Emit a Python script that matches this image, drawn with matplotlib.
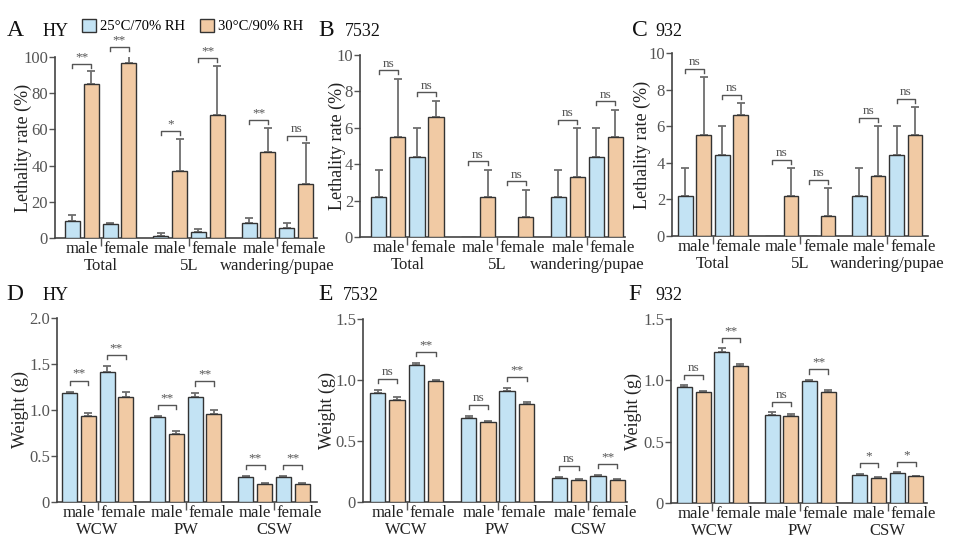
import numpy as np
import matplotlib
matplotlib.use('Agg')
import matplotlib.pyplot as plt

plt.rcParams['font.family'] = ['Liberation Serif', 'DejaVu Serif']

# ---- data ----
lethal_groups = ['Total', '5L', 'wandering/pupae']
weight_groups = ['WCW', 'PW', 'CSW']
sexes = ['male', 'female']
legend_labels = ['25°C/70% RH', '30°C/90% RH']

# A  HY lethality rate (%)   order: group x sex
a_blue = [9.6, 7.6, 1.1, 3.3, 8.3, 5.3]
a_blue_sd = [3.3, 0.5, 1.7, 1.5, 2.6, 2.8]
a_orange = [85.0, 96.7, 37.0, 67.8, 47.7, 29.7]
a_orange_sd = [7.2, 5.0, 17.9, 27.4, 13.3, 22.6]
a_sig = ['**', '**', '*', '**', '**', 'ns']

# B  7532 lethality rate (%)
b_blue = [2.2, 4.4, 0, 0, 2.2, 4.4]
b_blue_sd = [1.5, 1.6, 0, 0, 1.5, 1.6]
b_orange = [5.5, 6.6, 2.2, 1.1, 3.3, 5.5]
b_orange_sd = [3.2, 0.9, 1.5, 1.5, 2.7, 1.5]
b_sig = ['ns', 'ns', 'ns', 'ns', 'ns', 'ns']

# C  932 lethality rate (%)
c_blue = [2.2, 4.4, 0, 0, 2.2, 4.4]
c_blue_sd = [1.5, 1.6, 0, 0, 1.5, 1.6]
c_orange = [5.5, 6.6, 2.2, 1.1, 3.3, 5.5]
c_orange_sd = [3.2, 0.65, 1.5, 1.5, 2.7, 1.55]
c_sig = ['ns', 'ns', 'ns', 'ns', 'ns', 'ns']

# D  HY weight (g)
d_blue = [1.185, 1.41, 0.92, 1.145, 0.275, 0.275]
d_blue_sd = [0.015, 0.07, 0.01, 0.045, 0.01, 0.01]
d_orange = [0.94, 1.145, 0.74, 0.953, 0.20, 0.20]
d_orange_sd = [0.03, 0.05, 0.035, 0.05, 0.01, 0.01]
d_sig = ['**', '**', '**', '**', '**', '**']

# E  7532 weight (g)
e_blue = [0.897, 1.119, 0.688, 0.913, 0.200, 0.211]
e_blue_sd = [0.022, 0.018, 0.018, 0.018, 0.008, 0.008]
e_orange = [0.834, 0.993, 0.658, 0.800, 0.181, 0.181]
e_orange_sd = [0.024, 0.011, 0.008, 0.02, 0.008, 0.008]
e_sig = ['ns', '**', 'ns', '**', 'ns', '**']

# F  932 weight (g)
f_blue = [0.944, 1.233, 0.720, 0.995, 0.232, 0.243]
f_blue_sd = [0.02, 0.027, 0.02, 0.011, 0.008, 0.008]
f_orange = [0.905, 1.118, 0.706, 0.905, 0.207, 0.218]
f_orange_sd = [0.006, 0.016, 0.019, 0.019, 0.006, 0.006]
f_sig = ['ns', '**', 'ns', '**', '*', '*']

# ---- style ----
BLUE = '#c3e3f4'
ORANGE = '#f1caa4'
EDGE = '#333333'
ERR = '#6e6e6e'
GRAY = '#555555'
GAP = 4.7
W = 0.8
W_PX, H_PX = 960, 547

fig = plt.figure(figsize=(9.6, 5.47), dpi=100)
fig.patch.set_facecolor('white')


def px_rect(l, r, t, b):
    return [l / W_PX, 1 - b / H_PX, (r - l) / W_PX, (b - t) / H_PX]


def panel(box, letter, strain, letter_x, strain_x, title_y, label_x, groups,
          blue, blue_sd, orange, orange_sd, sig, ymax, yticks, yticklabels,
          ylabel, ml, mr, frac):
    l, r, t, b = box
    ax = fig.add_axes(px_rect(l, r, t, b))
    idx = np.arange(6)
    xb = (idx // 2) * GAP + (idx % 2) * 2
    xo = xb + 1
    blue = np.array(blue, float)
    orange = np.array(orange, float)
    blue_sd = np.array(blue_sd, float)
    orange_sd = np.array(orange_sd, float)

    hb = ax.bar(xb, blue, W, color=BLUE, edgecolor=EDGE, linewidth=1.0, zorder=3)
    ho = ax.bar(xo, orange, W, color=ORANGE, edgecolor=EDGE, linewidth=1.0, zorder=3)
    for x, m, sd in ((xb, blue, blue_sd), (xo, orange, orange_sd)):
        keep = sd > 0
        ax.errorbar(x[keep], m[keep], yerr=[np.zeros(keep.sum()), sd[keep]],
                    fmt='none', ecolor=ERR, elinewidth=1.3, capsize=3.2,
                    capthick=1.3, zorder=2)

    # significance brackets
    h = 0.022 * ymax
    for i in range(6):
        top = max(blue[i] + blue_sd[i], orange[i] + orange_sd[i])
        y = top + frac * ymax
        x1, x2 = xb[i], xo[i]
        ax.plot([x1, x1, x2, x2], [y - h, y, y, y - h], color=GRAY, lw=1.0,
                clip_on=False, zorder=4)
        ax.text((x1 + x2) / 2, y + 0.004 * ymax, sig[i], ha='center', va='bottom',
                fontsize=9.5, color=GRAY)

    ax.set_xlim(-W / 2 - ml, 2 * GAP + 3 + W / 2 + mr)
    ax.set_ylim(0, ymax)
    ax.set_yticks(yticks)
    ax.set_yticklabels(yticklabels)
    ax.set_xticks(np.arange(3) * GAP + 1.5)
    ax.tick_params(axis='x', length=6, width=1.0, color=GRAY, labelbottom=False)
    ax.tick_params(axis='y', length=4, width=1.0, color=GRAY, labelcolor=GRAY,
                   labelsize=12, pad=1)
    for sp in ('top', 'right'):
        ax.spines[sp].set_visible(False)
    for sp in ('left', 'bottom'):
        ax.spines[sp].set_color('#444444')
        ax.spines[sp].set_linewidth(1.2)

    # category labels under the axis: male | female around the group tick
    for k in range(3):
        xc = k * GAP + 1.5
        ax.annotate(sexes[0], xy=(xc, 0), xycoords=('data', 'axes fraction'),
                    xytext=(-2, -2.5), textcoords='offset points', ha='right', va='top',
                    fontsize=12, color='#222222')
        ax.annotate(sexes[1], xy=(xc, 0), xycoords=('data', 'axes fraction'),
                    xytext=(2, -2.5), textcoords='offset points', ha='left', va='top',
                    fontsize=12, color='#222222')
        ax.annotate(groups[k], xy=(xc, 0), xycoords=('data', 'axes fraction'),
                    xytext=(0, -14.5), textcoords='offset points', ha='center', va='top',
                    fontsize=12, color='#222222')

    ax.set_ylabel(ylabel, fontsize=13, color='#222222', va='center')
    ax.yaxis.set_label_coords((label_x - l) / (r - l), 0.5)
    fig.text(letter_x / W_PX, 1 - title_y / H_PX, letter, fontsize=17, va='center',
             ha='left', color='#111111')
    fig.text(strain_x / W_PX, 1 - (title_y + 2) / H_PX, strain, fontsize=13, va='center',
             ha='left', color='#111111')
    return ax, hb, ho


leth_ticks_a = [0, 20, 40, 60, 80, 100]
leth_ticks_bc = [0, 2, 4, 6, 8, 10]
w_ticks_d = [0, 0.5, 1.0, 1.5, 2.0]
w_ticks_ef = [0, 0.5, 1.0, 1.5]

ax_a, hb, ho = panel((55, 317, 57, 238), 'A', 'HY', 7, 43, 30, 23, lethal_groups,
                     a_blue, a_blue_sd, a_orange, a_orange_sd, a_sig, 100,
                     leth_ticks_a, [str(t) for t in leth_ticks_a],
                     'Lethality rate (%)', 0.53, 0.21, 0.04)
panel((360, 625, 55, 237), 'B', '7532', 318, 345, 30, 337, lethal_groups,
      b_blue, b_blue_sd, b_orange, b_orange_sd, b_sig, 10,
      leth_ticks_bc, [str(t) for t in leth_ticks_bc],
      'Lethality rate (%)', 0.58, 0.1, 0.045)
panel((672, 928, 53, 236), 'C', '932', 632, 655, 30, 642, lethal_groups,
      c_blue, c_blue_sd, c_orange, c_orange_sd, c_sig, 10,
      leth_ticks_bc, [str(t) for t in leth_ticks_bc],
      'Lethality rate (%)', 0.32, 0.3, 0.045)
panel((57, 317, 318, 502), 'D', 'HY', 6, 43, 294, 20, weight_groups,
      d_blue, d_blue_sd, d_orange, d_orange_sd, d_sig, 2.0,
      w_ticks_d, ['0', '0.5', '1.0', '1.5', '2.0'],
      'Weight (g)', 0.27, 0.4, 0.06)
panel((363, 627, 319, 502), 'E', '7532', 318, 343, 294, 327, weight_groups,
      e_blue, e_blue_sd, e_orange, e_orange_sd, e_sig, 1.5,
      w_ticks_ef, ['0', '0.5', '1.0', '1.5'],
      'Weight (g)', 0.36, 0.1, 0.06)
panel((671, 927, 319, 503), 'F', '932', 628, 655, 294, 633, weight_groups,
      f_blue, f_blue_sd, f_orange, f_orange_sd, f_sig, 1.5,
      w_ticks_ef, ['0', '0.5', '1.0', '1.5'],
      'Weight (g)', 0.32, 0.2, 0.055)

fig.legend([hb, ho], legend_labels, loc='center left',
           bbox_to_anchor=(73 / W_PX, 1 - 26 / H_PX), ncol=2, frameon=False,
           fontsize=10.5, handlelength=1.0, handleheight=1.0, handletextpad=0.25,
           columnspacing=1.0, borderpad=0.1)

fig.savefig('out.png', dpi=100, facecolor='white')
